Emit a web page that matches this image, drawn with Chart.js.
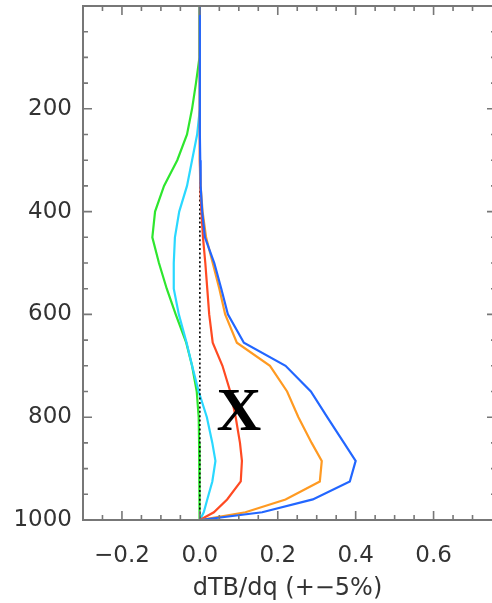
<!DOCTYPE html>
<html>
<head>
<meta charset="utf-8">
<script src="https://cdn.jsdelivr.net/npm/chart.js@4/dist/chart.umd.min.js"></script>
<style>
  html, body { margin: 0; padding: 0; background: #fff; }
  #wrap { width: 492px; height: 603px; }
</style>
</head>
<body>
<div id="wrap"><canvas id="profile"></canvas></div>
<script>
// pressure levels (hPa), shared by every curve
const pressure = [0, 100, 150, 200, 250, 300, 350, 400, 450, 500, 550, 600, 655, 700, 750, 800, 850, 885, 925, 960, 985, 1000];

// dTB/dq per curve
const greenDq  = [0, -0.001, -0.01, -0.02, -0.033, -0.058, -0.092, -0.115, -0.122, -0.105, -0.085, -0.062, -0.035, -0.02, -0.008, -0.003, -0.002, -0.002, -0.001, -0.001, 0, 0];
const cyanDq   = [0, 0, 0, 0, -0.007, -0.02, -0.033, -0.053, -0.064, -0.067, -0.067, -0.054, -0.034, -0.02, -0.003, 0.018, 0.032, 0.04, 0.032, 0.019, 0.01, 0];
const redDq    = [0, 0, 0, 0, 0, 0, 0.001, 0.004, 0.008, 0.014, 0.019, 0.024, 0.033, 0.058, 0.078, 0.092, 0.103, 0.108, 0.105, 0.07, 0.036, 0];
const orangeDq = [0, 0, 0, 0, 0, 0, 0.002, 0.007, 0.016, 0.033, 0.05, 0.065, 0.095, 0.18, 0.224, 0.253, 0.287, 0.313, 0.308, 0.22, 0.117, 0];
const blueDq   = [0, 0, 0, 0, 0, 0.001, 0.002, 0.006, 0.013, 0.037, 0.055, 0.072, 0.113, 0.22, 0.285, 0.327, 0.37, 0.4, 0.385, 0.29, 0.16, 0];

// dotted zero reference
const zeroP = [0, 1000];
const zeroX = [0, 0];

// tick labels
const xTickValues = [-0.2, 0.0, 0.2, 0.4, 0.6];
const yTickValues = [200, 400, 600, 800, 1000];
const xMinorStep = 0.05;
const yMinorStep = 50;

const toPoints = (xs, ps) => xs.map((x, i) => ({ x: x, y: ps[i] }));

const line = (data, color, order, extra) => Object.assign({
  data: data,
  borderColor: color,
  borderWidth: 2.2,
  pointRadius: 0,
  showLine: true,
  fill: false,
  tension: 0,
  order: order
}, extra || {});

// box, inward ticks on all four sides, and the big X mark
const framePlugin = {
  id: 'frame',
  afterDatasetsDraw(chart) {
    const { ctx, chartArea: a, scales } = chart;
    const xs = scales.x, ys = scales.y;
    // the right edge of the frame sits just past the canvas
    const rightEdge = a.right + 4;
    ctx.save();
    ctx.strokeStyle = '#777';
    ctx.lineWidth = 2;
    ctx.beginPath();
    ctx.moveTo(a.left, a.top); ctx.lineTo(a.left, a.bottom);
    ctx.moveTo(a.left - 1, a.bottom); ctx.lineTo(a.right, a.bottom);
    ctx.moveTo(a.left - 1, a.top); ctx.lineTo(a.right, a.top);
    ctx.stroke();

    ctx.lineWidth = 1.6;
    ctx.beginPath();
    const kx0 = Math.ceil(xs.min / xMinorStep - 1e-6), kx1 = Math.floor(xs.max / xMinorStep + 1e-6);
    for (let k = kx0; k < kx1; k++) {
      const px = xs.getPixelForValue(k * xMinorStep);
      const len = (k % 4 === 0) ? 9 : 5;
      ctx.moveTo(px, a.bottom); ctx.lineTo(px, a.bottom - len);
      ctx.moveTo(px, a.top); ctx.lineTo(px, a.top + len);
    }
    for (let v = 0; v <= 1000; v += yMinorStep) {
      const py = ys.getPixelForValue(v);
      const len = (v % 200 === 0) ? 9 : 5;
      ctx.moveTo(a.left, py); ctx.lineTo(a.left + len, py);
      ctx.moveTo(rightEdge, py); ctx.lineTo(rightEdge - len, py);
    }
    ctx.stroke();

    ctx.fillStyle = '#000';
    ctx.font = 'bold 62px "Liberation Serif", "DejaVu Serif", serif';
    ctx.textAlign = 'center';
    ctx.textBaseline = 'middle';
    ctx.fillText('X', xs.getPixelForValue(0.1), ys.getPixelForValue(793));
    ctx.restore();
  }
};

new Chart(document.getElementById('profile'), {
  type: 'scatter',
  data: {
    datasets: [
      line(toPoints(greenDq, pressure), '#2ee62e', 6),
      line(toPoints(cyanDq, pressure), '#2ad8ff', 5),
      line(toPoints(zeroX, zeroP), '#000', 4, { borderWidth: 1.6, borderDash: [2, 2.4] }),
      line(toPoints(redDq, pressure), '#ff4a22', 3),
      line(toPoints(orangeDq, pressure), '#ff9a22', 2),
      line(toPoints(blueDq, pressure), '#2266ff', 1)
    ]
  },
  options: {
    responsive: true,
    maintainAspectRatio: false,
    animation: false,
    layout: { padding: { top: 6, right: 0, bottom: 0, left: 0 } },
    plugins: {
      legend: { display: false },
      tooltip: { enabled: false }
    },
    scales: {
      x: {
        type: 'linear',
        min: -0.3,
        max: 0.75,
        grid: { display: false, drawTicks: false },
        border: { display: false },
        afterBuildTicks: (s) => { s.ticks = xTickValues.map(v => ({ value: v })); },
        afterFit: (s) => { s.height = 83; s.paddingLeft = 0; s.paddingRight = 0; },
        ticks: {
          autoSkip: false,
          maxRotation: 0,
          padding: 22,
          color: '#333',
          font: { family: '"DejaVu Sans"', size: 23 },
          callback: (v) => Number(v).toFixed(1).replace('-', '\u2212')
        },
        title: {
          display: true,
          text: 'dTB/dq (+\u22125%)',
          color: '#333',
          padding: { top: 4, bottom: 0 },
          font: { family: '"DejaVu Sans"', size: 24 }
        }
      },
      y: {
        type: 'linear',
        reverse: true,
        min: 0,
        max: 1000,
        grid: { display: false, drawTicks: false },
        border: { display: false },
        afterBuildTicks: (s) => { s.ticks = yTickValues.map(v => ({ value: v })); },
        afterFit: (s) => { s.width = 83; s.paddingTop = 0; s.paddingBottom = 0; },
        ticks: {
          autoSkip: false,
          padding: 11,
          color: '#333',
          font: { family: '"DejaVu Sans"', size: 23 },
          callback: (v) => String(v)
        }
      }
    }
  },
  plugins: [framePlugin]
});
</script>
</body>
</html>
